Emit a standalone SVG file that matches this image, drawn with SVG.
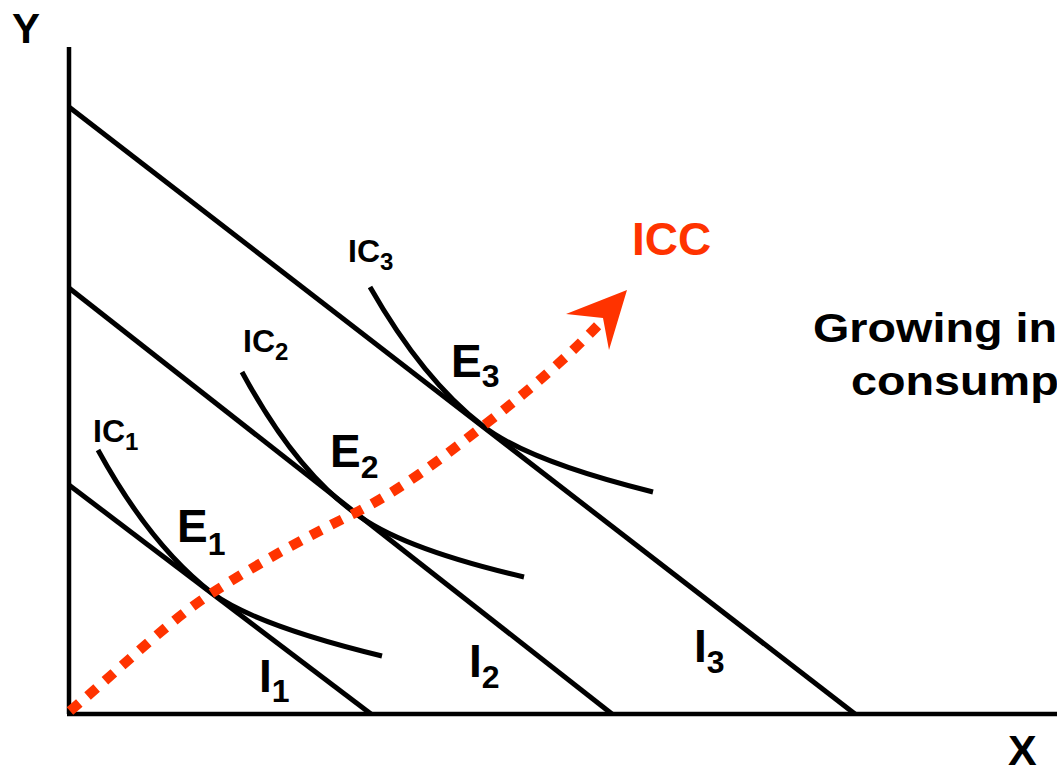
<svg xmlns="http://www.w3.org/2000/svg" width="1057" height="774" viewBox="0 0 1057 774">
  <style>
    .ln { fill: none; stroke: #000; stroke-width: 5; stroke-linecap: butt; }
    .ax { fill: none; stroke: #000; stroke-width: 4.5; }
    .t { font-family: "Liberation Sans", Arial, sans-serif; font-weight: bold; fill: #000; }
    .big { font-size: 46px; }
    .ic { font-size: 32px; }
    .sub { font-size: 32px; }
    .subs { font-size: 24px; }
    .icc { fill: #ff3300; }
  </style>
  <rect width="1057" height="774" fill="#fff"/>
  <g id="axes">
    <line class="ax" x1="69" y1="47" x2="69" y2="714"/>
    <line class="ax" x1="67" y1="714" x2="1057" y2="714"/>
    <text class="t" x="12" y="43" font-size="42">Y</text>
    <text class="t" x="1008" y="765" font-size="43">X</text>
  </g>
  <g id="budget-lines">
    <g id="I1"><line class="ln" x1="69" y1="485" x2="371" y2="714"/><text class="t big" x="259" y="692">I<tspan class="sub" dy="10">1</tspan></text></g>
    <g id="I2"><line class="ln" x1="69" y1="288" x2="612" y2="714"/><text class="t big" x="469" y="677">I<tspan class="sub" dy="11">2</tspan></text></g>
    <g id="I3"><line class="ln" x1="69" y1="107" x2="855" y2="714"/><text class="t big" x="694" y="662">I<tspan class="sub" dy="11">3</tspan></text></g>
  </g>
  <g id="indifference-curves">
    <g id="IC1"><path class="ln" d="M98,450 Q150,545 212,593 Q255,625 382,656"/><text class="t ic" x="93" y="442">IC<tspan class="subs" dy="8">1</tspan></text></g>
    <g id="IC2"><path class="ln" d="M242,372 Q295,470 355,513 Q400,548 524,577"/><text class="t ic" x="243" y="352">IC<tspan class="subs" dy="8">2</tspan></text></g>
    <g id="IC3"><path class="ln" d="M370,287 Q423,380 483,426 Q528,461 653,492"/><text class="t ic" x="348" y="262">IC<tspan class="subs" dy="8">3</tspan></text></g>
  </g>
  <g id="equilibria">
    <text id="E1" class="t big" x="177" y="542">E<tspan class="sub" dy="13">1</tspan></text>
    <text id="E2" class="t big" x="330" y="467">E<tspan class="sub" dy="11">2</tspan></text>
    <text id="E3" class="t big" x="451" y="377">E<tspan class="sub" dy="10">3</tspan></text>
  </g>
  <g id="connectors">
    <path id="ICC-path" d="M70,711 C130,660 170,620 212,593 C260,562 310,535 355,513 C400,490 440,460 483,426 C530,390 570,355 603,320" fill="none" stroke="#ff3300" stroke-width="10" stroke-dasharray="12 11"/>
    <polygon points="627,290 566,314 603,318 609,350" fill="#ff3300"/>
  </g>
  <g id="ICC-label">
    <text class="t big icc" x="632" y="255">ICC</text>
  </g>
  <g id="note">
    <text class="t" font-size="41" transform="translate(813,342) scale(1.14,1)">Growing in</text>
    <text class="t" font-size="41" transform="translate(851,395) scale(1.14,1)">consump</text>
  </g>
</svg>
